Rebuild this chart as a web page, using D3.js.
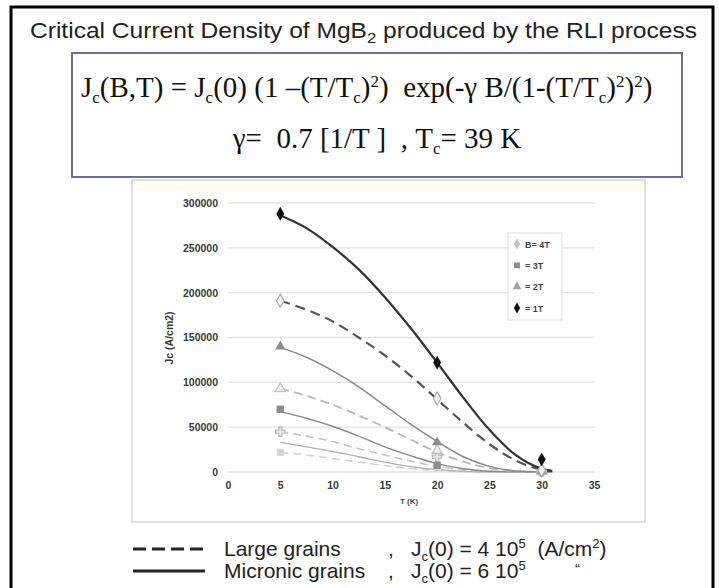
<!DOCTYPE html>
<html>
<head>
<meta charset="utf-8">
<script src="https://cdn.jsdelivr.net/npm/d3@7"></script>
<style>
  body { margin: 0; background: #fff; }
  svg { display: block; }
</style>
</head>
<body>
<div id="chart"></div>
<script>
var svgWidth = 719;
var svgHeight = 588;

var curveT = [5, 7.5, 10, 12.5, 15, 17.5, 20, 22.5, 25, 27.5, 30, 31];

// micronic grains (solid) and large grains (dashed), B = 1..4 T
var micronic1 = [286000, 272000, 251000, 226000, 195000, 160000, 122000, 83000, 47000, 19000, 3700, 1300];
var micronic2 = [139000, 128000, 113000, 95000, 74000, 53000, 34000, 17000, 6300, 1200, 100, 0];
var micronic3 = [67000, 60000, 51000, 40000, 28000, 18000, 9300, 3600, 800, 100, 0, 0];
var micronic4 = [33000, 28000, 23000, 17000, 11000, 6000, 2600, 700, 100, 0, 0, 0];
var large1 = [191000, 181000, 168000, 150000, 130000, 107000, 81000, 55000, 31000, 13000, 2500, 800];
var large2 = [93000, 85000, 75000, 63000, 50000, 36000, 22000, 11500, 4200, 800, 0, 0];
var large3 = [45000, 40000, 34000, 26000, 19000, 12000, 6200, 2400, 600, 0, 0, 0];
var large4 = [22000, 19000, 15000, 11000, 7200, 4000, 1700, 500, 0, 0, 0, 0];

// measured points
var pointT = [5, 20, 30];
var pts1T = [288000, 122000, 14000];
var ptsLarge1T = [191000, 82000, 2000];
var pts2T = [140000, 33000, 1000];
var ptsLarge2T = [93000, 24000, 500];
var pts3T = [70000, 7500, 500];
var ptsLarge3T = [45000, 17000, 300];
var ptsLarge4T = [22000, 4000, 0];

var yTicks = [0, 50000, 100000, 150000, 200000, 250000, 300000];
var xTicks = [0, 5, 10, 15, 20, 25, 30, 35];
var legendLabels = ["B= 4T", "= 3T", "= 2T", "= 1T"];

var sans = "Liberation Sans, Arial, sans-serif";
var serif = "Liberation Serif, Times New Roman, serif";

var svg = d3.select("#chart").append("svg")
    .attr("width", svgWidth)
    .attr("height", svgHeight);

// write text made of [string, shift] pieces; shift > 0 raises, < 0 lowers
function richText(sel, pieces, smallSize) {
    var prev = 0;
    pieces.forEach(function(p) {
        var shift = p[1] || 0;
        var ts = sel.append("tspan")
            .attr("dy", prev - shift)
            .text(p[0]);
        if (shift !== 0) ts.attr("font-size", smallSize);
        prev = shift;
    });
    return sel;
}

// outer frame
svg.append("rect")
    .attr("x", 11).attr("y", 7)
    .attr("width", 702).attr("height", 600)
    .attr("fill", "none")
    .attr("stroke", "#000")
    .attr("stroke-width", 3);

// title
var title = svg.append("text")
    .attr("x", 30).attr("y", 38)
    .attr("font-family", sans)
    .attr("font-size", 22)
    .attr("fill", "#222")
    .attr("textLength", 667)
    .attr("lengthAdjust", "spacingAndGlyphs");
richText(title, [["Critical Current Density of MgB", 0], ["2", -5], [" produced by the RLI process", 0]], 15);

// formula box
svg.append("rect")
    .attr("x", 72).attr("y", 53)
    .attr("width", 610).attr("height", 124)
    .attr("fill", "#fff")
    .attr("stroke", "#6e7090")
    .attr("stroke-width", 2);

var f1 = svg.append("text")
    .attr("x", 81).attr("y", 97)
    .attr("font-family", serif)
    .attr("font-size", 29)
    .attr("fill", "#111")
    .attr("xml:space", "preserve");
richText(f1, [
    ["J", 0], ["c", -6], ["(B,T) = J", 0], ["c", -6], ["(0) (1 \u2013(T/T", 0], ["c", -6],
    [")", 0], ["2", 10], [")  exp(-\u03b3 B/(1-(T/T", 0], ["c", -6], [")", 0], ["2", 10],
    [")", 0], ["2", 10], [")", 0]
], 17);

var f2 = svg.append("text")
    .attr("x", 377).attr("y", 148)
    .attr("text-anchor", "middle")
    .attr("font-family", serif)
    .attr("font-size", 29)
    .attr("fill", "#111")
    .attr("xml:space", "preserve");
richText(f2, [["\u03b3=  0.7 [1/T ]  , T", 0], ["c", -6], ["= 39 K", 0]], 17);

// chart panel
svg.append("rect")
    .attr("x", 132).attr("y", 180)
    .attr("width", 513).attr("height", 342)
    .attr("fill", "#fff")
    .attr("stroke", "#d4d4d4")
    .attr("stroke-width", 1.5);
svg.append("rect")
    .attr("x", 133).attr("y", 181)
    .attr("width", 511).attr("height", 10)
    .attr("fill", "#fdfdf2");

var plot = { left: 228, right: 594, top: 203, bottom: 472 };

var xScale = d3.scaleLinear().domain([0, 35]).range([plot.left, plot.right]);
var yScale = d3.scaleLinear().domain([0, 300000]).range([plot.bottom, plot.top]);

var chartGroup = svg.append("g");

// gridlines
chartGroup.selectAll(".grid")
    .data(yTicks)
    .enter()
    .append("line")
    .attr("x1", plot.left).attr("x2", plot.right)
    .attr("y1", d => yScale(d)).attr("y2", d => yScale(d))
    .attr("stroke", "#e2e2e2")
    .attr("stroke-width", 1.3);

// axes
var leftAxis = d3.axisLeft(yScale).tickValues(yTicks).tickFormat(d3.format("d")).tickSize(0).tickPadding(10);
var bottomAxis = d3.axisBottom(xScale).tickValues(xTicks).tickFormat(d3.format("d")).tickSize(0).tickPadding(10);

var yAxis = chartGroup.append("g")
    .attr("transform", `translate(${plot.left},0)`)
    .call(leftAxis);
var xAxis = chartGroup.append("g")
    .attr("transform", `translate(0,${plot.bottom})`)
    .call(bottomAxis);
[yAxis, xAxis].forEach(function(a) {
    a.select(".domain").remove();
    a.selectAll("text")
        .attr("font-family", sans)
        .attr("font-size", 10.5)
        .attr("font-weight", "bold")
        .attr("fill", "#3a3a3a");
});

chartGroup.append("text")
    .attr("transform", "translate(173,338) rotate(-90)")
    .attr("text-anchor", "middle")
    .attr("font-family", sans)
    .attr("font-size", 10.5)
    .attr("font-weight", "bold")
    .attr("fill", "#3a3a3a")
    .text("Jc (A/cm2)");

chartGroup.append("text")
    .attr("x", 409).attr("y", 504)
    .attr("text-anchor", "middle")
    .attr("font-family", sans)
    .attr("font-size", 8)
    .attr("font-weight", "bold")
    .attr("fill", "#444")
    .text("T (K)");

// curves
var line = d3.line()
    .x(d => xScale(d[0]))
    .y(d => yScale(d[1]))
    .curve(d3.curveMonotoneX);

var curves = [
    { vals: large4, color: "#d0d0d0", width: 1.5, dash: "8,5" },
    { vals: micronic4, color: "#b0b0b0", width: 1.3, dash: null },
    { vals: large3, color: "#c4c4c4", width: 1.6, dash: "8,5" },
    { vals: micronic3, color: "#8a8a8a", width: 1.4, dash: null },
    { vals: large2, color: "#b8b8b8", width: 1.8, dash: "9,5" },
    { vals: micronic2, color: "#8a8a8a", width: 1.5, dash: null },
    { vals: large1, color: "#555", width: 2.2, dash: "10,6" },
    { vals: micronic1, color: "#333", width: 2.2, dash: null }
];

chartGroup.selectAll(".curve")
    .data(curves)
    .enter()
    .append("path")
    .attr("d", d => line(curveT.map((t, i) => [t, d.vals[i]])))
    .attr("fill", "none")
    .attr("stroke", d => d.color)
    .attr("stroke-width", d => d.width)
    .attr("stroke-dasharray", d => d.dash);

// markers
var markerSets = [
    { vals: ptsLarge4T, shape: d3.symbolSquare, size: 50, fill: "#d4d4d4", stroke: "none" },
    { vals: ptsLarge3T, shape: d3.symbolCross, size: 50, fill: "#e4e4e4", stroke: "#bbb" },
    { vals: pts3T, shape: d3.symbolSquare, size: 55, fill: "#8c8c8c", stroke: "none" },
    { vals: ptsLarge2T, shape: d3.symbolTriangle, size: 45, fill: "#ececec", stroke: "#c0c0c0" },
    { vals: pts2T, shape: d3.symbolTriangle, size: 45, fill: "#8c8c8c", stroke: "none" },
    { vals: ptsLarge1T, shape: d3.symbolDiamond, size: 50, fill: "#f2f2f2", stroke: "#aaa" },
    { vals: pts1T, shape: d3.symbolDiamond, size: 55, fill: "#111", stroke: "none" }
];

markerSets.forEach(function(m) {
    chartGroup.selectAll(null)
        .data(pointT.map((t, i) => [t, m.vals[i]]))
        .enter()
        .append("path")
        .attr("d", d3.symbol().type(m.shape).size(m.size))
        .attr("transform", d => `translate(${xScale(d[0])},${yScale(d[1])})`)
        .attr("fill", m.fill)
        .attr("stroke", m.stroke)
        .attr("stroke-width", 1.2);
});

// inner legend
var legend = chartGroup.append("g");
legend.append("rect")
    .attr("x", 508).attr("y", 233)
    .attr("width", 54).attr("height", 87)
    .attr("fill", "#fff")
    .attr("stroke", "#ddd");
var legendMarks = [
    { shape: d3.symbolDiamond, fill: "#c4c4c4" },
    { shape: d3.symbolSquare, fill: "#8c8c8c" },
    { shape: d3.symbolTriangle, fill: "#a0a0a0" },
    { shape: d3.symbolDiamond, fill: "#111" }
];
var legendY = d3.scalePoint().domain(legendLabels).range([244, 308]);
legendLabels.forEach(function(lab, i) {
    legend.append("path")
        .attr("d", d3.symbol().type(legendMarks[i].shape).size(34))
        .attr("transform", `translate(517,${legendY(lab)})`)
        .attr("fill", legendMarks[i].fill);
    legend.append("text")
        .attr("x", 525).attr("y", legendY(lab) + 3.5)
        .attr("font-family", sans)
        .attr("font-size", 9)
        .attr("font-weight", "bold")
        .attr("fill", "#444")
        .text(lab);
});

// bottom key
svg.append("line")
    .attr("x1", 133).attr("x2", 205).attr("y1", 549).attr("y2", 549)
    .attr("stroke", "#222").attr("stroke-width", 3)
    .attr("stroke-dasharray", "13,6");
svg.append("line")
    .attr("x1", 133).attr("x2", 205).attr("y1", 571).attr("y2", 571)
    .attr("stroke", "#222").attr("stroke-width", 3);

function keyText(x, y) {
    return svg.append("text")
        .attr("x", x).attr("y", y)
        .attr("font-family", sans)
        .attr("font-size", 21)
        .attr("fill", "#222")
        .attr("xml:space", "preserve");
}
keyText(224, 556).text("Large grains");
keyText(388, 556).text(",");
keyText(224, 578).text("Micronic grains");
keyText(388, 578).text(",");

richText(keyText(411, 556), [["J", 0], ["c", -5], ["(0) = 4 10", 0], ["5", 8], ["  (A/cm", 0], ["2", 8], [")", 0]], 13);
richText(keyText(411, 578), [["J", 0], ["c", -5], ["(0) = 6 10", 0], ["5", 8]], 13);
keyText(575, 574).attr("font-size", 15).text("\u201c");
</script>
</body>
</html>
